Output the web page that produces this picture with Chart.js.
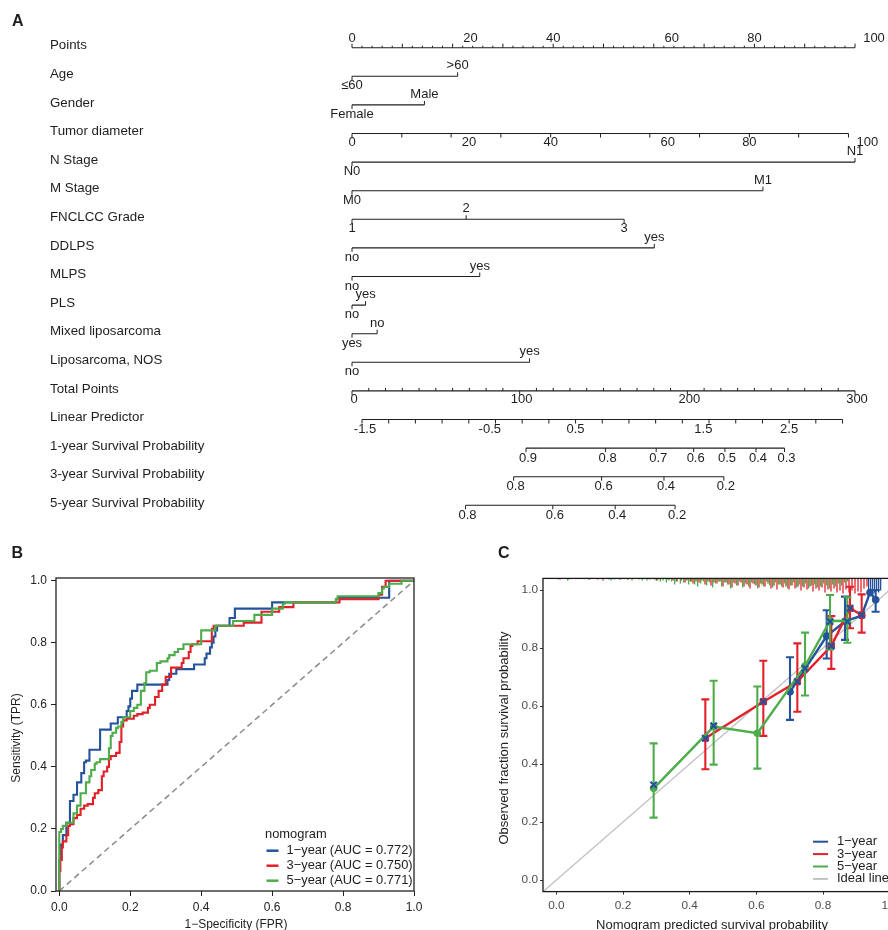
<!DOCTYPE html>
<html lang="en">
<head>
<meta charset="utf-8">
<title>Nomogram, ROC and calibration</title>
<script src="https://cdn.jsdelivr.net/npm/chart.js@4.4.1/dist/chart.umd.min.js"></script>
<style>
 html,body{margin:0;padding:0;background:#fff;}
 body{width:888px;height:930px;overflow:hidden;position:relative;}
 canvas{position:absolute;display:block;}
</style>
</head>
<body>
<canvas id="nomo" width="888" height="530" style="left:0;top:0;width:888px;height:530px"></canvas>
<canvas id="roc" width="440" height="392" style="left:0;top:540px;width:440px;height:392px"></canvas>
<canvas id="cal" width="430" height="392" style="left:490px;top:540px;width:430px;height:392px"></canvas>
<script>
// ===================== DATA =====================
// ---- Panel A: nomogram ----
const rowLabels = ["Points","Age","Gender","Tumor diameter","N Stage","M Stage","FNCLCC Grade","DDLPS","MLPS","PLS","Mixed liposarcoma","Liposarcoma, NOS","Total Points","Linear Predictor","1-year Survival Probability","3-year Survival Probability","5-year Survival Probability"];
const pointsAxisLabels = [0,20,40,60,80,100];
const ageLevels = ["≤60",">60"];          const agePoints = [0,21.0];
const genderLevels = ["Female","Male"];   const genderPoints = [0,14.4];
const tumorTickValues = [0,10,20,30,40,50,60,70,80,90,100];
const tumorTickPoints = [0,9.9,19.7,29.6,39.5,49.4,59.2,69.1,79.0,88.8,98.7];
const tumorLabels = [0,20,40,60,80,100];
const nLevels = ["N0","N1"];              const nPoints = [0,100];
const mLevels = ["M0","M1"];              const mPoints = [0,81.7];
const gradeLevels = ["1","2","3"];        const gradePoints = [0,22.7,54.1];
const ddlpsLevels = ["no","yes"];         const ddlpsPoints = [0,60.1];
const mlpsLevels = ["no","yes"];          const mlpsPoints = [0,25.4];
const plsLevels = ["no","yes"];           const plsPoints = [0,2.7];
const mixedLevels = ["yes","no"];         const mixedPoints = [0,5.0];
const nosLevels = ["no","yes"];           const nosPoints = [0,35.3];
const totalLabels = [0,100,200,300];
const lpLabels = ["-1.5","-0.5","0.5","1.5","2.5"];
const surv1Labels = ["0.9","0.8","0.7","0.6","0.5","0.4","0.3"];
const surv1LP = [0.036,0.781,1.255,1.606,1.899,2.190,2.457];
const surv3Labels = ["0.8","0.6","0.4","0.2"];
const surv3LP = [-0.080,0.744,1.328,1.889];
const surv5Labels = ["0.8","0.6","0.4","0.2"];
const surv5LP = [-0.531,0.287,0.871,1.432];

// ---- Panel B: ROC ----
const rocSeries = ["1−year (AUC = 0.772)","3−year (AUC = 0.750)","5−year (AUC = 0.771)"];
const rocTicks = [0,0.2,0.4,0.6,0.8,1.0];
const rocFpr1 = [0,0.005,0.01,0.02,0.03,0.04,0.05,0.062,0.07,0.075,0.085,0.09,0.115,0.115,0.12,0.145,0.15,0.165,0.165,0.19,0.195,0.2,0.205,0.21,0.22,0.225,0.305,0.31,0.33,0.345,0.38,0.385,0.41,0.415,0.425,0.43,0.435,0.44,0.445,0.455,0.48,0.48,0.495,0.495,0.6,0.605,0.78,0.785,0.93,0.93,0.935,1];
const rocTpr1 = [0,0.1,0.15,0.18,0.22,0.29,0.31,0.35,0.38,0.415,0.42,0.455,0.455,0.475,0.52,0.52,0.54,0.54,0.56,0.56,0.58,0.595,0.62,0.645,0.645,0.665,0.665,0.68,0.70,0.715,0.715,0.73,0.73,0.75,0.765,0.785,0.80,0.82,0.84,0.855,0.855,0.88,0.88,0.91,0.91,0.93,0.93,0.94,0.945,0.97,1.0,1.0];
const rocFpr3 = [0,0.003,0.007,0.01,0.02,0.025,0.03,0.04,0.05,0.06,0.07,0.08,0.095,0.1,0.11,0.12,0.125,0.135,0.14,0.145,0.16,0.17,0.175,0.18,0.19,0.21,0.22,0.235,0.25,0.255,0.27,0.28,0.29,0.3,0.315,0.32,0.345,0.35,0.365,0.37,0.375,0.39,0.405,0.43,0.435,0.44,0.52,0.52,0.57,0.57,0.62,0.63,0.66,0.665,0.79,0.795,0.9,0.91,0.92,0.925,1];
const rocTpr3 = [0,0.065,0.10,0.14,0.16,0.18,0.21,0.215,0.235,0.245,0.265,0.275,0.28,0.30,0.315,0.325,0.37,0.385,0.40,0.425,0.435,0.445,0.48,0.53,0.55,0.555,0.565,0.57,0.575,0.59,0.60,0.625,0.645,0.665,0.69,0.72,0.72,0.735,0.75,0.77,0.79,0.795,0.805,0.805,0.845,0.855,0.855,0.865,0.865,0.90,0.90,0.915,0.915,0.93,0.93,0.94,0.94,0.955,0.98,1.0,1.0];
const rocFpr5 = [0,0,0.005,0.01,0.02,0.04,0.05,0.06,0.075,0.085,0.09,0.1,0.105,0.115,0.125,0.14,0.145,0.15,0.16,0.165,0.175,0.18,0.2,0.21,0.22,0.23,0.24,0.245,0.255,0.275,0.285,0.305,0.31,0.325,0.335,0.35,0.355,0.4,0.4,0.44,0.45,0.49,0.49,0.55,0.555,0.6,0.605,0.63,0.635,0.78,0.785,0.9,0.91,0.915,0.93,0.93,0.965,0.97,1];
const rocTpr5 = [0,0.17,0.19,0.2,0.21,0.22,0.25,0.275,0.315,0.35,0.37,0.39,0.41,0.415,0.425,0.425,0.46,0.5,0.51,0.525,0.53,0.545,0.56,0.58,0.59,0.6,0.645,0.67,0.705,0.71,0.735,0.74,0.75,0.76,0.77,0.78,0.795,0.795,0.84,0.84,0.855,0.855,0.87,0.87,0.89,0.89,0.91,0.91,0.925,0.93,0.94,0.95,0.96,0.975,0.98,0.99,0.99,1.0,1.0];

// ---- Panel C: calibration ----
const calSeries = ["1−year","3−year","5−year","Ideal line"];
const calTicks = [0,0.2,0.4,0.6,0.8,1.0];
const cal1Pred = [0.701,0.811,0.866,0.916,0.941,0.958];
const cal1Obs  = [0.649,0.841,0.892,0.912,0.991,0.966];
const cal1Lo   = [0.552,0.764,0.828,null,null,0.925];
const cal1Hi   = [0.768,0.930,0.977,null,null,1.000];
const cal3Pred = [0.447,0.621,0.723,0.825,0.881,0.916];
const cal3Obs  = [0.489,0.615,0.684,0.807,0.937,0.914];
const cal3Lo   = [0.382,0.497,0.580,0.728,0.868,0.853];
const cal3Hi   = [0.623,0.756,0.816,0.910,1.011,0.985];
const cal5Pred = [0.292,0.472,0.603,0.746,0.821,0.873];
const cal5Obs  = [0.316,0.529,0.506,0.738,0.894,0.893];
const cal5Lo   = [0.215,0.398,0.384,0.636,0.795,0.818];
const cal5Hi   = [0.471,0.687,0.667,0.853,0.983,0.975];
// bias-corrected estimates (x marks)
const corrPred = [0.292,0.447,0.472,0.621,0.723,0.746,0.821,0.825,0.873,0.881,0.916];
const corrObs  = [0.328,0.489,0.532,0.615,0.684,0.730,0.891,0.807,0.891,0.937,0.914];
// spike histograms of predicted probabilities at the top: [predicted, count]
const rugGreen = [[0.007,1],[0.012,1],[0.034,2],[0.037,1],[0.097,1],[0.157,1],[0.164,2],[0.174,1],[0.194,1],[0.214,1],[0.227,2],[0.248,1],[0.258,2],[0.272,2],[0.295,1],[0.304,2],[0.312,3],[0.320,2],[0.330,4],[0.338,2],[0.346,3],[0.355,6],[0.363,3],[0.372,5],[0.382,4],[0.390,2],[0.397,6],[0.406,3],[0.415,6],[0.424,8],[0.433,5],[0.442,3],[0.451,7],[0.460,4],[0.469,9],[0.478,5],[0.487,3],[0.496,8],[0.505,4],[0.514,6],[0.523,10],[0.532,4],[0.541,7],[0.550,3],[0.559,9],[0.568,5],[0.577,8],[0.586,4],[0.595,6],[0.604,10],[0.613,5],[0.622,8],[0.631,3],[0.640,7],[0.649,9],[0.658,4],[0.667,6],[0.676,8],[0.685,5],[0.694,10],[0.703,7],[0.712,4],[0.721,9],[0.730,6],[0.739,8],[0.748,5],[0.757,10],[0.766,7],[0.775,6],[0.784,9],[0.793,8],[0.802,5],[0.811,7],[0.820,10],[0.829,6],[0.838,8],[0.847,5],[0.856,7],[0.865,4],[0.874,3]];
const rugRed = [[0.100,1],[0.124,1],[0.140,2],[0.190,1],[0.215,1],[0.280,1],[0.300,2],[0.335,1],[0.350,2],[0.360,3],[0.375,2],[0.386,4],[0.395,2],[0.402,3],[0.410,5],[0.419,3],[0.428,4],[0.437,2],[0.446,6],[0.455,3],[0.464,7],[0.473,4],[0.482,5],[0.491,3],[0.500,8],[0.509,4],[0.518,6],[0.527,9],[0.536,5],[0.545,7],[0.554,4],[0.563,8],[0.572,6],[0.581,10],[0.590,5],[0.599,7],[0.608,9],[0.617,6],[0.626,8],[0.635,5],[0.644,10],[0.653,7],[0.662,11],[0.671,6],[0.680,9],[0.689,8],[0.698,11],[0.707,7],[0.716,10],[0.725,8],[0.734,12],[0.743,9],[0.752,11],[0.761,8],[0.770,13],[0.779,10],[0.788,12],[0.797,9],[0.806,14],[0.815,11],[0.824,13],[0.833,10],[0.842,14],[0.851,12],[0.860,15],[0.869,11],[0.878,14],[0.887,12],[0.896,15],[0.905,13],[0.914,14],[0.923,10],[0.932,8]];
const rugBlue = [[0.937,13],[0.943,14],[0.949,12],[0.955,14],[0.961,13],[0.967,14],[0.973,12]];

// ===================== STYLE / LAYOUT =====================
const FONT = '"Liberation Sans", Arial, Helvetica, sans-serif';
const BLUE = '#24539b', RED = '#e3202a', GREEN = '#4dad4a', IDEAL = '#c2c2c2';
const INK = '#1e1e1e';
const LINE_OFF = 0.07;   // nomogram axis line offset below row label (rows)
const TICK = 4;          // nomogram tick length px
const RUG_UNIT = 0.00345;// y units per spike count
const CAP = 0.012;       // error-bar cap half width (x units)
const base = {responsive:false, animation:false, events:[], plugins:{legend:{display:false}, tooltip:{enabled:false}}};

function range(a, b, step){ const n = Math.round((b-a)/step); return Array.from({length:n+1},(_,i)=>+(a+i*step).toFixed(4)); }
function xy(xs, ys){ return xs.map((x,i)=>({x, y:ys[i]})); }

// ===================== PANEL A =====================
function catRow(r, levels, pts){
  return {r, axis:'xp', from:Math.min(...pts), to:Math.max(...pts),
    ticks: pts.map((v,i)=>({v, dir: i%2 ? -1 : 1, len:TICK})),
    labels: levels.map((t,i)=>({v:pts[i], text:t, dy: i%2 ? -10.5 : 9.5, dx:0}))};
}
const LBL_SHIFT = [0,18,0,18,0,19];
const spec = [];
spec.push({r:0, axis:'xp', from:0, to:100,
  ticks: range(0,100,2).map(v=>({v, dir:-1, len: v%10===0 ? 4 : 2})),
  labels: pointsAxisLabels.map((v,i)=>({v, text:String(v), dy:-9.5, dx:LBL_SHIFT[i]}))});
spec.push(catRow(1, ageLevels, agePoints));
spec.push(catRow(2, genderLevels, genderPoints));
spec.push({r:3, axis:'xp', from:0, to:tumorTickPoints[tumorTickPoints.length-1],
  ticks: tumorTickPoints.map(v=>({v, dir:1, len:TICK})),
  labels: tumorLabels.map((d,i)=>({v:tumorTickPoints[tumorTickValues.indexOf(d)], text:String(d), dy:8.5, dx:LBL_SHIFT[i]}))});
spec.push(catRow(4, nLevels, nPoints));
spec.push(catRow(5, mLevels, mPoints));
spec.push(catRow(6, gradeLevels, gradePoints));
spec.push(catRow(7, ddlpsLevels, ddlpsPoints));
spec.push(catRow(8, mlpsLevels, mlpsPoints));
spec.push(catRow(9, plsLevels, plsPoints));
spec.push(catRow(10, mixedLevels, mixedPoints));
spec.push(catRow(11, nosLevels, nosPoints));
spec.push({r:12, axis:'xt', from:0, to:300,
  ticks: range(0,300,10).map(v=>(totalLabels.includes(v) ? {v, dir:1, len:4} : {v, dir:-1, len:3})),
  labels: totalLabels.map(v=>({v, text:String(v), dy:8.5, dx:2}))});
const LP_SHIFT = [3,21,0,21,0];
spec.push({r:13, axis:'xlp', from:-1.5, to:3,
  ticks: range(-1.5,3,0.25).map(v=>({v, dir:1, len:TICK})),
  labels: lpLabels.map((t,i)=>({v:parseFloat(t), text:t, dy:9.5, dx:LP_SHIFT[i]}))});
[[14,surv1Labels,surv1LP],[15,surv3Labels,surv3LP],[16,surv5Labels,surv5LP]].forEach(([r,labs,lps])=>{
  spec.push({r, axis:'xlp', from:Math.min(...lps), to:Math.max(...lps),
    ticks: lps.map(v=>({v, dir:1, len:TICK})),
    labels: labs.map((t,i)=>({v:lps[i], text:t, dy:10, dx:2}))});
});

const nomoPlugin = {
  id:'nomoText',
  afterDatasetsDraw(chart){
    const ctx = chart.ctx, Y = chart.scales.y;
    ctx.save();
    ctx.fillStyle = INK; ctx.textBaseline = 'middle';
    ctx.font = 'bold 16px ' + FONT; ctx.textAlign = 'left';
    ctx.fillText('A', 12, 22);
    ctx.font = '13.3px ' + FONT;
    rowLabels.forEach((t,i)=> ctx.fillText(t, 50, Y.getPixelForValue(i)));
    ctx.strokeStyle = INK; ctx.lineWidth = 1;
    ctx.font = '13px ' + FONT;
    ctx.textAlign = 'center';
    for (const row of spec){
      const X = chart.scales[row.axis];
      const y0 = Y.getPixelForValue(row.r + LINE_OFF);
      for (const t of row.ticks){
        const x = X.getPixelForValue(t.v);
        ctx.beginPath(); ctx.moveTo(x, y0); ctx.lineTo(x, y0 + t.dir*t.len); ctx.stroke();
      }
      for (const l of row.labels){
        ctx.fillText(l.text, X.getPixelForValue(l.v) + l.dx, y0 + l.dy);
      }
    }
    ctx.restore();
  }
};

new Chart(document.getElementById('nomo'), {
  type:'scatter',
  data:{datasets: spec.map(s=>({data:[{x:s.from,y:s.r+LINE_OFF},{x:s.to,y:s.r+LINE_OFF}],
    xAxisID:s.axis, yAxisID:'y', showLine:true, borderColor:INK, borderWidth:1.1, pointRadius:0}))},
  options:{...base,
    layout:{padding:{left:352, right:33, top:2.8, bottom:12.4}},
    scales:{
      xp:{type:'linear', position:'bottom', min:0, max:100, display:false},
      xt:{type:'linear', position:'bottom', min:0, max:300, display:false},
      xlp:{type:'linear', position:'bottom', min:-1.5937, max:3.1169, display:false},
      y:{type:'linear', min:-1.5, max:16.5, reverse:true, display:false}
    }},
  plugins:[nomoPlugin]
});

// ===================== PANEL B =====================
function axisOpts(min, max, ticks, size, color, tickColor, tickLen, pad, fit){
  return {type:'linear', min, max,
    afterBuildTicks: s=>{ s.ticks = ticks.map(v=>({value:v})); },
    afterFit: fit,
    ticks:{callback:v=>Number(v).toFixed(1), font:{family:FONT, size}, color, padding:pad, maxRotation:0, autoSkip:false},
    grid:{drawOnChartArea:false, drawTicks:true, tickLength:tickLen, color:tickColor, lineWidth:1},
    border:{display:false}};
}
function framePlugin(color, width){
  return {id:'frame', afterDatasetsDraw(c){
    const a = c.chartArea, ctx = c.ctx; ctx.save(); ctx.strokeStyle = color; ctx.lineWidth = width;
    ctx.strokeRect(a.left, a.top, a.right-a.left, a.bottom-a.top); ctx.restore(); }};
}

const rocColors = [BLUE, RED, GREEN];
const rocText = {id:'rocText', afterDraw(c){
  const ctx = c.ctx; ctx.save(); ctx.fillStyle = INK; ctx.textBaseline = 'middle';
  ctx.font = 'bold 16px ' + FONT; ctx.textAlign = 'left'; ctx.fillText('B', 11.5, 13.5);
  ctx.font = '12px ' + FONT; ctx.textAlign = 'center';
  ctx.fillText('1−Specificity (FPR)', 236, 385);
  ctx.save(); ctx.translate(16.5, 198); ctx.rotate(-Math.PI/2); ctx.fillText('Sensitivity (TPR)', 0, 0); ctx.restore();
  ctx.font = '12.9px ' + FONT; ctx.textAlign = 'left';
  ctx.fillText('nomogram', 265, 294);
  rocSeries.forEach((t,i)=>{
    const y = 310.7 + i*15;
    ctx.strokeStyle = rocColors[i]; ctx.lineWidth = 2.5;
    ctx.beginPath(); ctx.moveTo(266.5, y); ctx.lineTo(278.5, y); ctx.stroke();
    ctx.fillText(t, 286.5, y);
  });
  ctx.restore();
}};

new Chart(document.getElementById('roc'), {
  type:'scatter',
  data:{datasets:[
    {data:xy(rocFpr5, rocTpr5), borderColor:GREEN, order:1},
    {data:xy(rocFpr3, rocTpr3), borderColor:RED, order:2},
    {data:xy(rocFpr1, rocTpr1), borderColor:BLUE, order:3},
    {data:[{x:0,y:0},{x:1,y:1}], borderColor:'#8a8a8a', borderDash:[6,4], borderWidth:1.5, stepped:false, order:4}
  ].map(d=>({showLine:true, pointRadius:0, borderWidth:2.1, stepped:'after', ...d}))},
  options:{...base,
    layout:{padding:{left:0, right:26, top:38, bottom:0}},
    scales:{
      x: axisOpts(-0.0093, 1, rocTicks, 12, '#222', '#222', 5, 4, s=>{s.height = 41;}),
      y: axisOpts(0, 1.0087, rocTicks, 12, '#222', '#222', 5, 4, s=>{s.width = 56;})
    }},
  plugins:[framePlugin('#222', 1.3), rocText]
});

// ===================== PANEL C =====================
function errSegs(xs, lo, hi){
  const d = [];
  xs.forEach((x,i)=>{
    if (lo[i] == null) return;
    d.push({x, y:lo[i]}, {x, y:hi[i]}, {x, y:null},
           {x:x-CAP, y:lo[i]}, {x:x+CAP, y:lo[i]}, {x, y:null},
           {x:x-CAP, y:hi[i]}, {x:x+CAP, y:hi[i]}, {x, y:null});
  });
  return d;
}
function rugSegs(rug){
  const d = [];
  rug.forEach(([x,n])=>{ d.push({x, y:1.04}, {x, y:1.04 - n*RUG_UNIT}, {x, y:null}); });
  return d;
}
const calColors = [BLUE, RED, GREEN, IDEAL];
const calText = {id:'calText', afterDraw(c){
  const ctx = c.ctx; ctx.save(); ctx.fillStyle = INK; ctx.textBaseline = 'middle';
  ctx.font = 'bold 16px ' + FONT; ctx.textAlign = 'left'; ctx.fillText('C', 8, 14);
  ctx.font = '13px ' + FONT; ctx.textAlign = 'center';
  ctx.fillText('Nomogram predicted survival probability', 222, 385);
  ctx.save(); ctx.translate(14, 198); ctx.rotate(-Math.PI/2); ctx.fillText('Observed fraction survival probability', 0, 0); ctx.restore();
  ctx.textAlign = 'left';
  calSeries.forEach((t,i)=>{
    const y = 301.7 + i*12.4;
    ctx.strokeStyle = calColors[i]; ctx.lineWidth = 2;
    ctx.beginPath(); ctx.moveTo(323, y); ctx.lineTo(338, y); ctx.stroke();
    ctx.fillText(t, 347, y);
  });
  ctx.restore();
}};

const lineDs = (xs, ys, col, order)=>({data:xy(xs, ys), borderColor:col, backgroundColor:col, pointBackgroundColor:col,
  pointBorderWidth:0, pointRadius:3.8, borderWidth:2.4, showLine:true, order});
const errDs = (xs, lo, hi, col, order)=>({data:errSegs(xs, lo, hi), borderColor:col, borderWidth:2.1, pointRadius:0, showLine:true, order});
const rugDs = (rug, col, order)=>({data:rugSegs(rug), borderColor:col, borderWidth:1.3, pointRadius:0, showLine:true, order});

new Chart(document.getElementById('cal'), {
  type:'scatter',
  data:{datasets:[
    {data:xy(corrPred, corrObs), pointStyle:'crossRot', pointRadius:4.5, pointBorderWidth:2.2, pointBorderColor:BLUE, borderColor:BLUE, showLine:false, order:0},
    lineDs(cal5Pred, cal5Obs, GREEN, 1),
    errDs(cal5Pred, cal5Lo, cal5Hi, GREEN, 2),
    lineDs(cal3Pred, cal3Obs, RED, 3),
    errDs(cal3Pred, cal3Lo, cal3Hi, RED, 4),
    lineDs(cal1Pred, cal1Obs, BLUE, 5),
    errDs(cal1Pred, cal1Lo, cal1Hi, BLUE, 6),
    rugDs(rugBlue, BLUE, 7),
    rugDs(rugGreen, GREEN, 8),
    rugDs(rugRed, RED, 9),
    {data:[{x:-0.04,y:-0.04},{x:1.04,y:1.04}], borderColor:IDEAL, borderWidth:1.4, pointRadius:0, showLine:true, order:10}
  ]},
  options:{...base,
    layout:{padding:{left:0, right:17, top:38.4, bottom:0}},
    scales:{
      x: axisOpts(-0.04, 1.04, calTicks, 11.8, '#4d4d4d', '#333', 3, 4, s=>{s.height = 40.4;}),
      y: axisOpts(-0.04, 1.04, calTicks, 11.8, '#4d4d4d', '#333', 3, 2, s=>{s.width = 53;})
    }},
  plugins:[framePlugin('#1a1a1a', 1.3), calText]
});
</script>
</body>
</html>
